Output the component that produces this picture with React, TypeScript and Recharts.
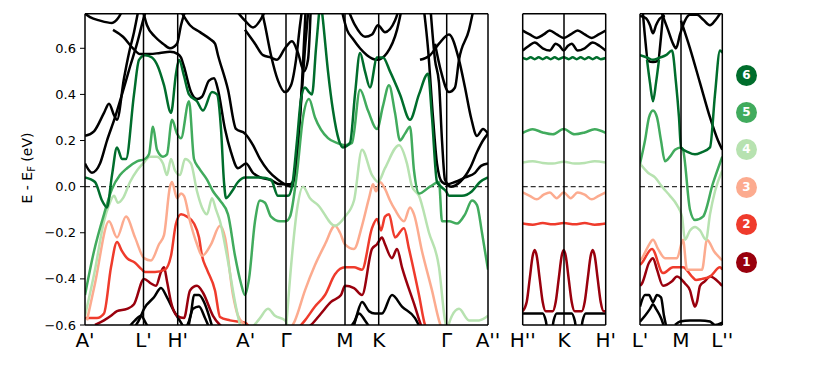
import React from "react";
import { LineChart, Line, XAxis, YAxis, ReferenceLine } from "recharts";

type Pt = [number, number];

// energy window (eV) and y ticks
const eMin = -0.6;
const eMax = 0.75;
const yTicks = [-0.6, -0.4, -0.2, 0, 0.2, 0.4, 0.6];

// k-path of the three panels
const mainTicks = [0, 58.5, 92.7, 160.7, 201, 260, 293.7, 361.7, 403];
const mainLabels = ["A'", "L'", "H'", "A'", "Γ", "M", "K", "Γ", "A''"];
const midTicks = [0, 41.3, 83];
const midLabels = ["H''", "K", "H'"];
const rightTicks = [0, 41, 82.3];
const rightLabels = ["L'", "M", "L''"];

const legendNums = [6, 5, 4, 3, 2, 1];

// ---------- main panel bands [k, E] ----------
const mainG6a: Pt[] = [[0,0.04],[10,0.02],[17,-0.06],[22,-0.09],[27,0.05],[32,0.17],[37,0.12],[41,0.12],[49,0.40],[54,0.55],[60,0.57],[67,0.56],[73,0.52],[79,0.44],[86,0.32],[91,0.49],[94,0.55],[99,0.48],[104,0.40],[112,0.37],[118,0.33],[127,0.41],[132,0.40],[136,0.25],[139,0.02],[141,-0.05],[147,-0.02],[153,0.02],[160,0.04],[175,0.04],[186,0.03],[193,-0.04],[203,-0.04],[207,0.0],[212,0.2],[216,0.38],[220,0.43],[224,0.41],[227,0.40],[231,0.6],[235,0.8]];
const mainG6b: Pt[] = [[236,0.8],[238,0.72],[243,0.5],[248,0.33],[254,0.2],[258,0.17],[265,0.19],[270,0.4],[275,0.58],[280,0.5],[285,0.43],[292,0.56],[298,0.56],[305,0.5],[315,0.4],[325,0.29],[334,0.4],[343,0.49],[347,0.3],[352,0.02],[356,0.0],[361,-0.02],[364,-0.04],[377,-0.04],[387,-0.02],[395,0.02],[403,0.04]];
const mainG5: Pt[] = [[0,-0.47],[9,-0.28],[19,-0.12],[27,-0.01],[35,0.05],[42,0.08],[52,0.11],[60,0.12],[64,0.14],[68,0.26],[72,0.16],[78,0.13],[82,0.14],[87,0.29],[92,0.23],[96,0.21],[104,0.37],[109,0.12],[114,0.08],[122,0.03],[128,-0.02],[135,-0.06],[143,-0.12],[150,-0.3],[156,-0.42],[160,-0.47],[164,-0.4],[170,-0.15],[175,-0.06],[180,-0.07],[186,-0.13],[195,-0.15],[201,-0.15],[205,-0.13],[212,0.06],[218,0.3],[224,0.38],[230,0.3],[243,0.21],[252,0.19],[260,0.18],[267,0.19],[275,0.42],[283,0.33],[292,0.25],[298,0.35],[304,0.44],[310,0.32],[315,0.2],[320,0.23],[325,0.26],[329,0.07],[334,-0.03],[345,0.0],[354,0.02],[357,-0.15],[364,-0.15],[372,-0.16],[380,-0.12],[387,-0.06],[392,-0.08],[397,-0.2],[403,-0.36]];
const mainG4a: Pt[] = [[0,-0.56],[10,-0.36],[19,-0.15],[24,-0.08],[29,-0.04],[33,-0.07],[38,-0.05],[45,0.02],[52,0.07],[58,0.1],[65,0.13],[72,0.13],[78,0.1],[82,0.05],[86,0.12],[90,0.07],[95,0.05],[100,0.12],[106,0.1],[112,-0.02],[117,-0.09],[122,-0.12],[127,-0.05],[131,-0.1],[135,-0.15],[142,-0.3],[150,-0.5],[156,-0.62]];
const mainG4b: Pt[] = [[166,-0.62],[175,-0.57],[183,-0.53],[190,-0.56],[200,-0.58],[204,-0.62]];
const mainG4c: Pt[] = [[201,-0.62],[207,-0.3],[212,-0.1],[218,0.0],[225,-0.05],[233,-0.08],[250,-0.17],[260,-0.13],[269,-0.06],[277,0.16],[287,0.05],[293,0.02],[300,0.08],[314,0.18],[322,0.1],[327,0.0],[334,-0.04],[344,-0.2],[354,-0.35],[360,-0.58],[362,-0.62]];
const mainG4d: Pt[] = [[362,-0.62],[367,-0.56],[374,-0.53],[384,-0.58],[394,-0.58],[403,-0.56]];
const mainR3a: Pt[] = [[2,-0.58],[10,-0.42],[24,-0.15],[32,-0.22],[41,-0.13],[50,-0.22],[59,-0.31],[66,-0.32],[74,-0.25],[79,-0.21],[85,0.0],[87,0.02],[92,-0.05],[96,-0.03],[99,-0.04],[105,-0.15],[112,-0.25],[117,-0.3],[126,-0.25],[135,-0.17],[140,-0.22],[148,-0.47],[153,-0.56],[160,-0.6],[165,-0.62]];
const mainR3b: Pt[] = [[205,-0.62],[210,-0.58],[220,-0.45],[230,-0.34],[240,-0.25],[250,-0.17],[255,-0.2],[260,-0.25],[269,-0.27],[277,-0.17],[284,-0.05],[288,0.01],[291,-0.02],[295,0.02],[300,-0.01],[305,-0.06],[310,-0.1],[319,-0.15],[325,-0.09],[329,-0.12],[337,-0.28],[347,-0.45],[354,-0.58],[357,-0.62]];
const mainR2a: Pt[] = [[0,-0.57],[12,-0.57],[19,-0.55],[26,-0.35],[32,-0.24],[37,-0.28],[42,-0.31],[50,-0.33],[57,-0.36],[60,-0.37],[70,-0.37],[80,-0.36],[86,-0.3],[91,-0.16],[96,-0.12],[102,-0.13],[109,-0.16],[114,-0.22],[117,-0.3],[122,-0.36],[130,-0.45],[135,-0.565],[145,-0.58],[160,-0.59],[166,-0.62]];
const mainR2b: Pt[] = [[212,-0.62],[220,-0.58],[230,-0.52],[240,-0.47],[250,-0.38],[260,-0.35],[269,-0.35],[277,-0.36],[287,-0.18],[292,-0.14],[296,-0.19],[300,-0.13],[304,-0.12],[310,-0.22],[319,-0.18],[324,-0.27],[334,-0.47],[340,-0.6],[342,-0.62]];
const mainR1a: Pt[] = [[10,-0.6],[19,-0.58],[26,-0.56],[32,-0.54],[42,-0.53],[49,-0.51],[59,-0.40],[66,-0.42],[71,-0.43],[76,-0.37],[79,-0.35],[82,-0.41],[86,-0.5],[92,-0.56],[99,-0.57],[105,-0.45],[112,-0.43],[118,-0.46],[128,-0.56],[135,-0.6],[145,-0.62]];
const mainR1b: Pt[] = [[220,-0.62],[226,-0.6],[236,-0.55],[246,-0.5],[256,-0.47],[260,-0.43],[269,-0.44],[277,-0.47],[287,-0.27],[292,-0.25],[297,-0.22],[300,-0.25],[307,-0.31],[312,-0.27],[317,-0.35],[330,-0.52],[336,-0.6],[340,-0.63]];
const mainK1: Pt[] = [[0,0.75],[5,0.735],[15,0.72],[27,0.71],[33,0.73],[37,0.76]];
const mainK2: Pt[] = [[0,0.22],[9,0.24],[19,0.32],[24,0.36],[29,0.31],[32,0.29],[39,0.47],[44,0.58],[49,0.67],[54,0.78]];
const mainK3: Pt[] = [[0,0.10],[7,0.06],[15,0.1],[22,0.2],[30,0.3],[37,0.4],[45,0.52],[52,0.62],[58,0.72],[62,0.78]];
const mainK4: Pt[] = [[28,0.68],[38,0.65],[48,0.6],[55,0.575],[65,0.575],[75,0.58],[85,0.585],[93,0.575],[96,0.56],[99,0.52],[106,0.41],[112,0.38],[117,0.39],[124,0.46],[129,0.47],[133,0.42],[140,0.25],[146,0.15],[153,0.08],[161,0.1],[168,0.06],[175,0.04],[185,0.03],[195,0.01],[205,0.01],[210,0.05],[215,0.3],[220,0.6],[224,0.8]];
const mainK5: Pt[] = [[57,0.78],[62,0.7],[70,0.65],[78,0.62],[85,0.6],[92,0.62],[96,0.7],[100,0.76]];
const mainK6: Pt[] = [[96,0.76],[105,0.7],[115,0.67],[125,0.64],[130,0.62],[133,0.57],[143,0.42],[151,0.25],[160,0.23],[168,0.18],[175,0.12],[183,0.07],[193,0.03],[200,0.01],[207,0.0],[212,0.15],[217,0.45],[221,0.8]];
const mainK7: Pt[] = [[150,0.77],[160,0.72],[168,0.69],[175,0.72],[182,0.78]];
const mainK8: Pt[] = [[175,0.8],[180,0.7],[186,0.57],[193,0.46],[200,0.41],[206,0.44],[211,0.55],[215,0.7],[218,0.8]];
const mainK9: Pt[] = [[160,0.68],[170,0.62],[178,0.57],[186,0.56],[192,0.55],[200,0.6],[207,0.63],[213,0.58],[219,0.5],[223,0.55],[226,0.8]];
const mainK10: Pt[] = [[255,0.8],[262,0.68],[268,0.64],[275,0.6],[282,0.57],[292,0.55],[302,0.58],[312,0.68],[318,0.8]];
const mainK11: Pt[] = [[262,0.78],[270,0.7],[280,0.65],[287,0.66],[293,0.7],[300,0.67],[310,0.72],[316,0.8]];
const mainK12: Pt[] = [[338,0.8],[343,0.6],[348,0.3],[352,0.1],[357,0.02],[362,0.01],[370,0.02],[380,0.04],[390,0.06],[396,0.09],[403,0.1]];
const mainK13: Pt[] = [[345,0.8],[350,0.55],[354,0.45],[357,0.2],[360,0.03],[366,0.0],[375,0.02],[385,0.08],[392,0.15],[398,0.2],[403,0.23]];
const mainK14: Pt[] = [[335,0.55],[345,0.57],[354,0.62],[364,0.66],[374,0.55],[380,0.43],[386,0.3],[392,0.22],[398,0.25],[403,0.23]];
const mainK15: Pt[] = [[350,0.62],[356,0.5],[364,0.41],[370,0.43],[374,0.55],[384,0.68],[389,0.78]];
const mainK16: Pt[] = [[48,-0.62],[55,-0.57],[59,-0.53],[69,-0.48],[76,-0.44],[82,-0.48],[89,-0.54],[96,-0.59],[100,-0.62]];
const mainK17: Pt[] = [[42,-0.62],[50,-0.58],[56,-0.56],[62,-0.6],[68,-0.62]];
const mainK18: Pt[] = [[100,-0.62],[106,-0.55],[109,-0.47],[114,-0.47],[119,-0.5],[124,-0.56],[128,-0.62]];
const mainK19: Pt[] = [[103,-0.62],[108,-0.53],[114,-0.52],[120,-0.57],[125,-0.62]];
const mainK20: Pt[] = [[263,-0.62],[270,-0.58],[277,-0.5],[284,-0.54],[290,-0.55],[297,-0.55],[307,-0.47],[317,-0.52],[330,-0.57],[336,-0.62]];
const mainK21: Pt[] = [[268,-0.62],[274,-0.55],[280,-0.58],[286,-0.62]];

// ---------- middle panel (H''-K-H') ----------
const midK1: Pt[] = [[0,0.677],[7,0.66],[14,0.645],[21,0.66],[27,0.677],[34,0.66],[41,0.645],[48,0.66],[55,0.677],[62,0.66],[69,0.645],[76,0.66],[83,0.677]];
const midK2: Pt[] = [[0,0.59],[6,0.61],[12,0.625],[20,0.6],[27,0.59],[33,0.62],[37,0.61],[41,0.59],[45,0.61],[49,0.62],[55,0.59],[62,0.6],[70,0.625],[77,0.61],[83,0.59]];
const midG6: Pt[] = [[0,0.558],[4,0.553],[8,0.561],[12,0.553],[16,0.561],[20,0.553],[24,0.561],[28,0.553],[32,0.561],[36,0.553],[41,0.561],[46,0.553],[50,0.561],[54,0.553],[58,0.561],[62,0.553],[66,0.561],[70,0.553],[74,0.561],[78,0.553],[83,0.558]];
const midG5: Pt[] = [[0,0.233],[10,0.249],[20,0.235],[30,0.227],[41,0.25],[52,0.227],[62,0.235],[72,0.249],[83,0.233]];
const midG4: Pt[] = [[0,0.105],[10,0.11],[20,0.103],[30,0.1],[41,0.108],[52,0.1],[62,0.103],[72,0.11],[83,0.105]];
const midR3: Pt[] = [[0,-0.025],[7,-0.04],[14,-0.055],[21,-0.035],[27,-0.025],[34,-0.05],[41,-0.025],[48,-0.05],[55,-0.025],[62,-0.035],[69,-0.055],[76,-0.04],[83,-0.025]];
const midR2: Pt[] = [[0,-0.16],[10,-0.165],[20,-0.158],[30,-0.163],[41,-0.158],[52,-0.163],[62,-0.158],[72,-0.165],[83,-0.16]];
const midR1: Pt[] = [[0,-0.54],[4,-0.5],[7,-0.4],[10,-0.3],[12,-0.275],[14,-0.3],[17,-0.4],[20,-0.5],[23,-0.54],[30,-0.54],[33,-0.5],[36,-0.4],[39,-0.3],[41,-0.275],[43,-0.3],[46,-0.4],[49,-0.5],[52,-0.54],[59,-0.54],[62,-0.5],[65,-0.4],[68,-0.3],[70,-0.275],[72,-0.3],[75,-0.4],[78,-0.5],[81,-0.54],[83,-0.54]];
const midK3: Pt[] = [[0,-0.55],[20,-0.55],[23,-0.58],[26,-0.65],[28,-0.65],[31,-0.58],[34,-0.55],[49,-0.55],[52,-0.58],[55,-0.65],[57,-0.65],[60,-0.58],[63,-0.55],[83,-0.55]];

// ---------- right panel (L'-M-L'') ----------
const rightK1: Pt[] = [[0,0.74],[6,0.73],[10,0.7],[13,0.665],[16,0.7],[20,0.73],[25,0.74]];
const rightK2: Pt[] = [[2,0.8],[5,0.65],[8,0.545],[13,0.54],[18,0.545],[21,0.65],[24,0.8]];
const rightK3: Pt[] = [[22,0.75],[28,0.68],[33,0.62],[36,0.6],[40,0.66],[45,0.72],[50,0.745],[57,0.745],[63,0.725],[70,0.7],[75,0.72],[80,0.75]];
const rightK4: Pt[] = [[41,0.72],[50,0.6],[60,0.45],[70,0.3],[78,0.2],[82.3,0.16]];
const rightG6a: Pt[] = [[0,0.57],[7,0.56],[13,0.55],[20,0.56],[26,0.57],[32,0.59],[36,0.45],[39,0.3],[41,0.17],[48,0.15],[55,0.14],[62,0.15],[70,0.17],[75,0.4],[80,0.59],[82.3,0.58]];
const rightG6b: Pt[] = [[7,0.55],[10,0.45],[13,0.37],[16,0.45],[19,0.55]];
const rightG5: Pt[] = [[0,0.10],[5,0.2],[9,0.3],[13,0.33],[17,0.3],[21,0.2],[25,0.11],[30,0.13],[35,0.16],[41,0.17],[43,0.16],[50,-0.1],[55,-0.145],[63,-0.13],[73,0.015],[82.3,0.13]];
const rightG4: Pt[] = [[0,0.1],[8,0.06],[15,0.04],[22,0.0],[30,-0.04],[37,-0.08],[42,-0.13],[45,-0.23],[50,-0.19],[55,-0.175],[60,-0.19],[66,-0.23],[70,-0.12],[75,-0.02],[82.3,0.07]];
const rightR3: Pt[] = [[0,-0.32],[2,-0.31],[8,-0.26],[13,-0.23],[18,-0.27],[25,-0.31],[37,-0.31],[43,-0.23],[47,-0.36],[55,-0.36],[62,-0.36],[67,-0.23],[74,-0.28],[80,-0.31],[82.3,-0.32]];
const rightR2: Pt[] = [[0,-0.34],[2,-0.33],[12,-0.27],[23,-0.375],[33,-0.35],[43,-0.35],[52,-0.39],[56,-0.405],[62,-0.4],[70,-0.39],[80,-0.35],[82.3,-0.36]];
const rightR1: Pt[] = [[0,-0.43],[2,-0.42],[9,-0.33],[13,-0.31],[17,-0.36],[23,-0.43],[32,-0.41],[37,-0.39],[45,-0.42],[50,-0.45],[53,-0.5],[55,-0.52],[57,-0.5],[60,-0.43],[65,-0.41],[70,-0.39],[80,-0.42],[82.3,-0.43]];
const rightK5: Pt[] = [[0,-0.52],[5,-0.47],[9,-0.47],[13,-0.5],[17,-0.47],[21,-0.48],[24,-0.56],[27,-0.62]];
const rightK6: Pt[] = [[0,-0.585],[5,-0.56],[10,-0.53],[13,-0.51],[16,-0.53],[21,-0.57],[25,-0.62]];
const rightK7: Pt[] = [[35,-0.6],[40,-0.585],[50,-0.58],[60,-0.58],[70,-0.585],[75,-0.6],[82.3,-0.59]];

const COLORS = {
  k: "#000000",
  g6: "#006d2c",
  g5: "#41ab5d",
  g4: "#b7e2b0",
  r3: "#fcab8f",
  r2: "#ef3b2c",
  r1: "#99000d",
};
const legendColors = [COLORS.g6, COLORS.g5, COLORS.g4, COLORS.r3, COLORS.r2, COLORS.r1];

type Band = { color: string; pts: Pt[] };

const mainBands: Band[] = [
  ...[mainK1, mainK2, mainK3, mainK4, mainK5, mainK6, mainK7, mainK8, mainK9, mainK10, mainK11, mainK12, mainK13, mainK14, mainK15, mainK16, mainK17, mainK18, mainK19, mainK20, mainK21].map((pts) => ({ color: COLORS.k, pts })),
  { color: COLORS.r1, pts: mainR1a },
  { color: COLORS.r1, pts: mainR1b },
  { color: COLORS.r2, pts: mainR2a },
  { color: COLORS.r2, pts: mainR2b },
  { color: COLORS.r3, pts: mainR3a },
  { color: COLORS.r3, pts: mainR3b },
  { color: COLORS.g4, pts: mainG4a },
  { color: COLORS.g4, pts: mainG4b },
  { color: COLORS.g4, pts: mainG4c },
  { color: COLORS.g4, pts: mainG4d },
  { color: COLORS.g5, pts: mainG5 },
  { color: COLORS.g6, pts: mainG6a },
  { color: COLORS.g6, pts: mainG6b },
];

const midBands: Band[] = [
  { color: COLORS.k, pts: midK1 },
  { color: COLORS.k, pts: midK2 },
  { color: COLORS.k, pts: midK3 },
  { color: COLORS.r1, pts: midR1 },
  { color: COLORS.r2, pts: midR2 },
  { color: COLORS.r3, pts: midR3 },
  { color: COLORS.g4, pts: midG4 },
  { color: COLORS.g5, pts: midG5 },
  { color: COLORS.g6, pts: midG6 },
];

const rightBands: Band[] = [
  ...[rightK1, rightK2, rightK3, rightK4, rightK5, rightK6, rightK7].map((pts) => ({ color: COLORS.k, pts })),
  { color: COLORS.r1, pts: rightR1 },
  { color: COLORS.r2, pts: rightR2 },
  { color: COLORS.r3, pts: rightR3 },
  { color: COLORS.g4, pts: rightG4 },
  { color: COLORS.g5, pts: rightG5 },
  { color: COLORS.g6, pts: rightG6a },
  { color: COLORS.g6, pts: rightG6b },
];

const font = "DejaVu Sans";
const W = 830;
const H = 369;
const TOP = 13.7;
const BOTTOM = 325;
const Y_AXIS_W = 60;
const X_AXIS_H = 30;

const fmtE = (v: number) => (v < -1e-9 ? "\u2212" : "") + Math.abs(v).toFixed(1);

interface PanelProps {
  x0: number;
  x1: number;
  ticks: number[];
  labels: string[];
  bands: Band[];
  showY?: boolean;
}

function Panel({ x0, x1, ticks, labels, bands, showY = false }: PanelProps) {
  const kEnd = ticks[ticks.length - 1];
  return (
    <div style={{ position: "absolute", left: 0, top: 0 }}>
      <LineChart
        width={W}
        height={H}
        margin={{ top: TOP, bottom: H - BOTTOM - X_AXIS_H, left: showY ? x0 - Y_AXIS_W : x0, right: W - x1 }}
      >
        <XAxis
          type="number"
          dataKey="k"
          domain={[0, kEnd]}
          ticks={ticks}
          interval={0}
          allowDataOverflow
          axisLine={false}
          tickLine={false}
          tickSize={0}
          tickMargin={8}
          height={X_AXIS_H}
          tick={{ fontSize: 20, fill: "#000", fontFamily: font }}
          tickFormatter={(v: number) => labels[ticks.indexOf(v)] ?? ""}
        />
        <YAxis
          type="number"
          domain={[eMin, eMax]}
          allowDataOverflow
          ticks={yTicks}
          hide={!showY}
          width={Y_AXIS_W}
          axisLine={false}
          tickLine={{ stroke: "#000", strokeWidth: 1 }}
          tickSize={5}
          tickMargin={4}
          tick={{ fontSize: 13, fill: "#000", fontFamily: font }}
          tickFormatter={fmtE}
        />
        <ReferenceLine y={0} stroke="#333" strokeWidth={1.2} strokeDasharray="5 3" />
        {bands.map((b, i) => (
          <Line
            key={i}
            data={b.pts.map(([k, e]) => ({ k, e }))}
            dataKey="e"
            type="monotone"
            stroke={b.color}
            strokeWidth={2.5}
            dot={false}
            activeDot={false}
            isAnimationActive={false}
          />
        ))}
        {ticks.slice(1, -1).map((t) => (
          <ReferenceLine key={"v" + t} x={t} stroke="#000" strokeWidth={1.5} />
        ))}
        <ReferenceLine x={0} stroke="#000" strokeWidth={1.5} />
        <ReferenceLine x={kEnd} stroke="#000" strokeWidth={1.5} />
        <ReferenceLine y={eMax} stroke="#000" strokeWidth={1.5} />
        <ReferenceLine y={eMin} stroke="#000" strokeWidth={1.5} />
      </LineChart>
    </div>
  );
}

export default function App() {
  return (
    <div style={{ position: "absolute", left: 0, top: 0, width: W, height: H, background: "#fff", fontFamily: font }}>
      <Panel x0={85} x1={488} ticks={mainTicks} labels={mainLabels} bands={mainBands} showY />
      <Panel x0={522.7} x1={605.7} ticks={midTicks} labels={midLabels} bands={midBands} />
      <Panel x0={640} x1={722.3} ticks={rightTicks} labels={rightLabels} bands={rightBands} />
      <div
        style={{
          position: "absolute",
          left: 28,
          top: 168,
          transform: "translate(-50%, -50%) rotate(-90deg)",
          whiteSpace: "nowrap",
          fontSize: 14,
          color: "#000",
        }}
      >
        E - E<sub style={{ fontSize: 10 }}>F</sub> (eV)
      </div>
      {legendNums.map((n, i) => (
        <div
          key={n}
          style={{
            position: "absolute",
            left: 746.5 - 10.5,
            top: 75 + i * 37.4 - 10.5,
            width: 21,
            height: 21,
            borderRadius: "50%",
            background: legendColors[i],
            color: "#fff",
            fontWeight: "bold",
            fontSize: 12,
            lineHeight: "21px",
            textAlign: "center",
          }}
        >
          {n}
        </div>
      ))}
    </div>
  );
}
